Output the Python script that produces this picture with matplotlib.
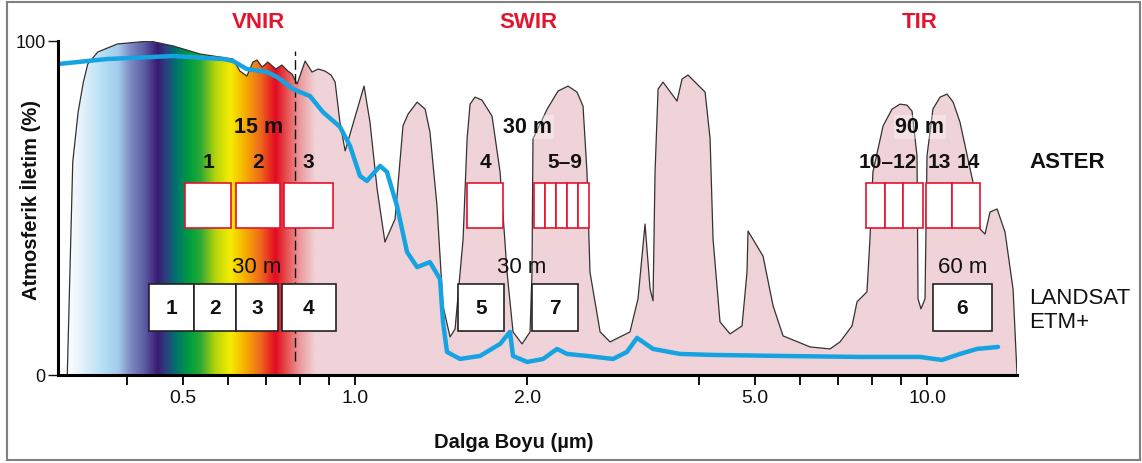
import matplotlib
matplotlib.use("Agg")
import matplotlib.pyplot as plt
import numpy as np
from matplotlib.patches import Rectangle
from matplotlib.colors import to_rgb
from matplotlib.ticker import FixedLocator, FixedFormatter, NullFormatter

plt.rcParams['font.family'] = ['Liberation Sans', 'DejaVu Sans']

# atmospheric transmission envelope: wavelength (um) / transmission (%)
trans_wl = [0.314, 0.321, 0.328, 0.335, 0.341, 0.355, 0.384, 0.438, 0.481, 0.536, 0.612,
            0.629, 0.647, 0.663, 0.674, 0.688, 0.704, 0.727, 0.745, 0.763, 0.776, 0.792,
            0.818, 0.841, 0.862, 0.886, 0.908, 0.923, 0.941, 0.961, 1.037, 1.062, 1.093, 1.128, 1.175,
            1.213, 1.238, 1.284, 1.326, 1.352, 1.391, 1.425, 1.466, 1.496,
            1.545, 1.570, 1.589, 1.621, 1.667, 1.736, 1.793, 1.844, 1.889, 1.959, 2.023,
            2.039, 2.047, 2.167, 2.264, 2.357, 2.444, 2.504, 2.544, 2.575, 2.682, 2.792, 3.025,
            3.124, 3.214, 3.280, 3.319, 3.346, 3.387, 3.455, 3.656, 3.730, 3.821, 4.093, 4.176, 4.226,
            4.346, 4.525, 4.749,
            4.845, 4.865, 5.168, 5.381, 5.602, 6.246, 6.767, 7.045, 7.395, 7.545, 7.697, 7.853,
            7.948, 8.044, 8.38, 8.688, 8.97, 9.226, 9.415, 9.606, 9.645, 9.76, 9.92, 10.0,
            10.24, 10.54, 10.84, 11.11, 11.42, 12.03, 12.38, 12.63, 12.89, 13.26, 13.69, 14.14, 14.37]
trans_pct = [0, 63.8, 78.7, 87.7, 93.1, 96.7, 99.1, 100, 98.5, 96.1, 94.6,
             91.0, 89.5, 93.7, 94.3, 92.2, 93.7, 91.6, 92.8, 91.0, 90.1, 87.1,
             94.0, 90.7, 91.6, 91.0, 89.8, 87.7, 75.7, 67.1, 86.5, 75.7, 55.7, 39.8, 46.7,
             74.6, 78.1, 81.7, 79.6, 72.8, 50.6, 20.7, 11.4, 13.8,
             40.7, 70.7, 81.1, 83.2, 82.3, 77.5, 60.8, 30.8, 12.9, 9.3, 12.9,
             30.8, 70.7, 79.6, 85.0, 86.5, 84.7, 80.5, 60.8, 30.8, 12.9, 9.9, 12.9,
             22.8, 45.2, 25.7, 22.2, 60.8, 85.6, 87.7, 82.0, 88.6, 89.8, 84.7, 70.7, 40.7,
             15.9, 12.3, 14.7,
             30.8, 43.1, 35.6, 20.7, 11.7, 8.4, 7.8, 9.9, 14.7, 21.9, 23.4, 24.9,
             40.7, 60.8, 74.6, 79.6, 81.1, 80.8, 79.0, 65.6, 22.8, 19.8, 22.8, 65.6,
             79.6, 83.2, 84.1, 81.7, 75.7, 57.8, 43.7, 42.2, 48.8, 49.7, 42.8, 25.7, 0]

# blue spectral curve
spec_wl = [0.3025, 0.3685, 0.481, 0.588, 0.612, 0.647, 0.702, 0.731, 0.779, 0.834,
           0.879, 0.941, 0.980, 1.020, 1.049, 1.106, 1.137, 1.184, 1.233, 1.284,
           1.352, 1.408, 1.425, 1.448, 1.526, 1.654, 1.793, 1.866, 1.889, 1.999,
           2.132, 2.255, 2.348, 2.544, 2.826, 2.988, 3.112, 3.319, 3.700, 4.226,
           5.534, 7.636, 9.723, 10.62, 11.42, 12.23, 13.31]
spec_pct = [93.1, 94.6, 95.5, 94.6, 94.0, 91.6, 90.7, 89.2, 85.6, 83.5,
            78.7, 74.3, 68.6, 59.6, 58.1, 62.6, 60.8, 50.6, 36.8, 32.3,
            33.8, 28.7, 15.9, 6.9, 4.8, 5.7, 9.3, 12.9, 5.7, 3.9,
            4.8, 7.8, 6.3, 5.7, 4.8, 6.9, 11.1, 7.8, 6.3, 6.0,
            5.7, 5.4, 5.4, 4.5, 6.3, 7.8, 8.4]

# ASTER band edges (um)
aster_bands = [(0.505, 0.607), (0.619, 0.740), (0.751, 0.915), (1.570, 1.815),
               (2.056, 2.149), (2.149, 2.246), (2.246, 2.348), (2.348, 2.454), (2.454, 2.565),
               (7.82, 8.45), (8.45, 9.08), (9.08, 9.84), (9.96, 11.06), (11.06, 12.38)]
aster_labels = ["1", "2", "3", "4", "5\u20139", "10\u201312", "13", "14"]
aster_label_wl = [0.555, 0.677, 0.828, 1.69, 2.33, 8.55, 10.5, 11.8]

# Landsat ETM+ band edges (um)
landsat_bands = [(0.436, 0.523), (0.523, 0.619), (0.619, 0.733), (0.745, 0.926),
                 (1.514, 1.822), (2.039, 2.454), (10.24, 12.99)]
landsat_labels = ["1", "2", "3", "4", "5", "7", "6"]

aster_res = ["15 m", "30 m", "90 m"]
aster_res_wl = [0.677, 2.006, 9.72]
landsat_res = ["30 m", "30 m", "60 m"]
landsat_res_wl = [0.674, 1.959, 11.56]

regions = ["VNIR", "SWIR", "TIR"]
region_wl = [0.677, 2.006, 9.72]
vnir_edge_wl = 0.785

major_ticks = [0.5, 1.0, 2.0, 5.0, 10.0]
major_labels = ["0.5", "1.0", "2.0", "5.0", "10.0"]
minor_ticks = [0.4, 0.6, 0.7, 0.8, 0.9, 4.0, 6.0, 7.0, 8.0, 9.0]

# colour ramp of the visible spectrum
grad_wl = [0.311, 0.331, 0.366, 0.385, 0.404, 0.429, 0.451, 0.466, 0.485, 0.515, 0.536,
           0.569, 0.605, 0.642, 0.682, 0.725, 0.755, 0.80, 0.851]
grad_colors = ['#ffffff', '#e6f3fb', '#b0dcf4', '#a3cbea', '#7f8cc4', '#5a5aa2', '#3a1a72',
               '#2d3f7e', '#00706f', '#00a03c', '#2aa836', '#b4d40c', '#f6ec00', '#f6ae00',
               '#ef6a1c', '#e30a22', '#e64a4a', '#eb9a9c', '#efd3d8']

PINK = '#efd3d8'
RED = '#e4132e'
BLUE = '#16a3e2'
INK = '#111111'

fig = plt.figure(figsize=(11.42, 4.64), dpi=100)
ax = fig.add_axes([0.0508, 0.1897, 0.8398, 0.7198])
ax.set_xscale('log')
ax.set_xlim(0.3025, 14.37)
ax.set_ylim(0, 100)

fill = ax.fill(trans_wl, trans_pct, facecolor=PINK, edgecolor='none', zorder=1)[0]

# spectrum gradient clipped to the transmission envelope
x0, x1 = ax.get_xlim()
frac = np.linspace(0, 1, 1500)
wl = 10 ** (np.log10(x0) + frac * (np.log10(x1) - np.log10(x0)))
rgb = np.array([to_rgb(c) for c in grad_colors])
cols = np.stack([np.interp(np.log10(wl), np.log10(grad_wl), rgb[:, k]) for k in range(3)], axis=-1)
img = np.tile(cols[None, :, :], (2, 1, 1))
im = ax.imshow(img, extent=(0, 1, 0, 1), transform=ax.transAxes, aspect='auto',
               interpolation='bilinear', zorder=2)
im.set_clip_path(fill)
ax.set_xlim(0.3025, 14.37)
ax.set_ylim(0, 100)

ax.plot(trans_wl, trans_pct, color='#333333', lw=0.9, zorder=3,
        solid_joinstyle='round')
ax.vlines(vnir_edge_wl, 4.2, 97, colors=INK, lw=1.0, linestyles=(0, (7, 3)), zorder=3)

# band boxes
for lo, hi in aster_bands:
    ax.add_patch(Rectangle((lo, 44.0), hi - lo, 13.5, facecolor='white',
                           edgecolor=RED, lw=1.2, zorder=4))
for (lo, hi), lab in zip(landsat_bands, landsat_labels):
    ax.add_patch(Rectangle((lo, 13.2), hi - lo, 14.0, facecolor='white',
                           edgecolor='#222222', lw=1.2, zorder=4))
    ax.text(np.sqrt(lo * hi), 20.2, lab, ha='center', va='center', fontsize=15,
            fontweight='bold', color=INK, zorder=5)

for lab, x in zip(aster_labels, aster_label_wl):
    ax.text(x, 63.8, lab, ha='center', va='center', fontsize=15, fontweight='bold',
            color=INK, zorder=5)
for i, (lab, x) in enumerate(zip(aster_res, aster_res_wl)):
    t = ax.text(x, 74.3, lab, ha='center', va='center', fontsize=15.5, fontweight='bold',
                color=INK, zorder=5)
    if i > 0:
        t.set_bbox(dict(facecolor='white', alpha=0.35, edgecolor='none', pad=1))
for lab, x in zip(landsat_res, landsat_res_wl):
    ax.text(x, 32.6, lab, ha='center', va='center', fontsize=16, color=INK, zorder=5)

ax.plot(spec_wl, spec_pct, color=BLUE, lw=3.2, solid_capstyle='round',
        solid_joinstyle='round', zorder=6)

for name, x in zip(regions, region_wl):
    ax.text(x, 105.7, name, ha='center', va='center', fontsize=16, fontweight='bold',
            color=RED, clip_on=False)

ax.text(1.013, 0.638, "ASTER", transform=ax.transAxes, ha='left', va='center',
        fontsize=16, fontweight='bold', color=INK)
ax.text(1.013, 0.195, "LANDSAT\nETM+", transform=ax.transAxes, ha='left', va='center',
        fontsize=16, color=INK, linespacing=1.2)

# axes styling
for side in ['top', 'right']:
    ax.spines[side].set_visible(False)
for side in ['left', 'bottom']:
    ax.spines[side].set_linewidth(2.2)
    ax.spines[side].set_zorder(7)
ax.xaxis.set_major_locator(FixedLocator(major_ticks))
ax.xaxis.set_major_formatter(FixedFormatter(major_labels))
ax.xaxis.set_minor_locator(FixedLocator(minor_ticks))
ax.xaxis.set_minor_formatter(NullFormatter())
ax.tick_params(axis='x', which='both', direction='out', length=7, width=1.4,
               labelsize=14, pad=3, colors=INK)
ax.set_yticks([0, 100])
ax.tick_params(axis='y', direction='out', length=7, width=1.0, labelsize=13, pad=2, colors=INK)

ax.text(0.4755, -0.2, "Dalga Boyu (\u00b5m)", transform=ax.transAxes, ha='center',
        va='center', fontsize=14.5, fontweight='bold', color=INK)
ax.text(-0.029, 0.527, "Atmosferik \u0130letim (%)", transform=ax.transAxes, ha='center',
        va='center', rotation=90, fontsize=14.5, fontweight='bold', color=INK)

fig.patches.append(Rectangle((0.0061, 0.0065), 0.992, 0.987, transform=fig.transFigure,
                             fill=False, edgecolor='#808080', lw=1.5))

fig.savefig("out.png", dpi=100)
